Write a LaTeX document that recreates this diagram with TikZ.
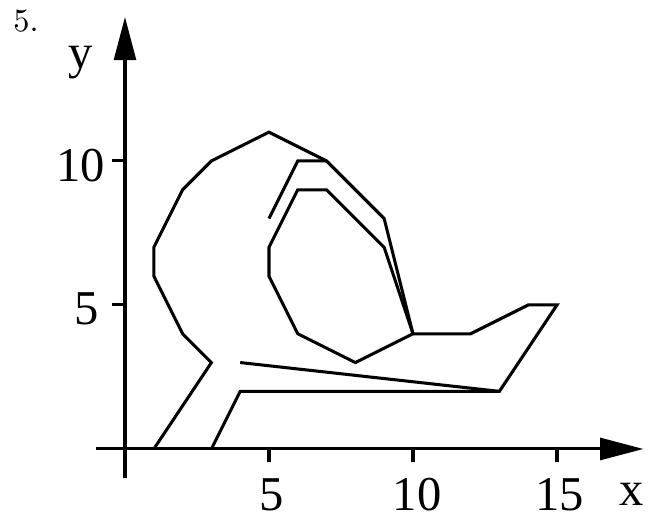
\documentclass[tikz,border=0pt]{standalone}
\usepackage{fontspec}
\usepackage{tikz}
\usetikzlibrary{arrows.meta}
\newfontfamily\plotfont{Liberation Serif}
\newfontfamily\numfont{lmroman10-regular.otf}
\tikzset{
  curve/.style={line width=1.5pt,line join=miter},
  axis/.style={line width=1.5pt,-{Triangle[length=0.75cm,width=0.38cm]}},
  ticklabel/.style={font=\plotfont\fontsize{24}{28}\selectfont,inner sep=0pt,anchor=base}
}

\begin{document}
\begin{tikzpicture}[x=0.5cm,y=0.5cm]
  \useasboundingbox (-4.34,-2.5) rectangle (18.23,15.59);
  \node[anchor=base west,inner sep=0pt,font=\numfont\fontsize{16}{19}\selectfont] (num) at (-3.89,14.5) {5.};
  % axes
  \draw[axis] (-1,0) -- (18,0);
  \draw[axis] (0,-1) -- (0,15);
  \foreach \t in {5,10,15} \draw[line width=1.5pt] (\t,0) -- (\t,-0.45);
  \foreach \t in {5,10} \draw[line width=1.5pt] (0,\t) -- (-0.45,\t);
  \node[ticklabel] (xl5) at (5.1,-2.12) {5};
  \node[ticklabel] (xl10) at (10.14,-2.12) {10};
  \node[ticklabel] (xl15) at (15.1,-2.12) {15};
  \node[ticklabel] (yl5) at (-1.32,4.31) {5};
  \node[ticklabel] (yl10) at (-1.53,9.28) {10};
  \node[ticklabel] (xname) at (17.6,-1.95) {x};
  \node[ticklabel] (yname) at (-1.53,13.2) {y};
  % figure
  \draw[curve] (1,0) -- (3,3) -- (2,4) -- (1,6) -- (1,7) -- (2,9) -- (3,10) -- (5,11) -- (7,10)
    -- (9,8) -- (10,4) -- (12,4) -- (14,5) -- (15,5) -- (13,2) -- (4,2) -- (3,0);
  \draw[curve] (4,3) -- (13,2);
  \draw[curve] (5,8) -- (6,10) -- (7,10);
  \draw[curve] (6,9) -- (7,9) -- (9,7) -- (10,4) -- (8,3) -- (6,4) -- (5,6) -- (5,7) -- cycle;
\end{tikzpicture}
\end{document}
